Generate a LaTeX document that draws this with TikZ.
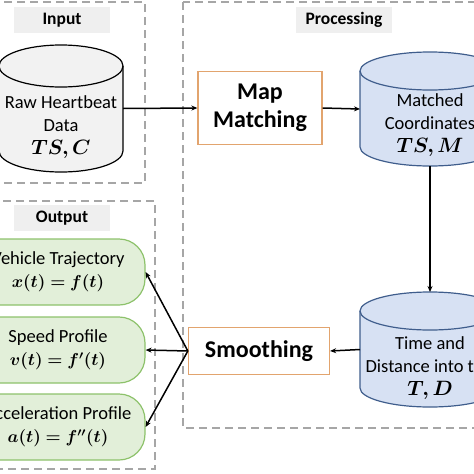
\documentclass[tikz,border=0pt]{standalone}
\usepackage{amsmath,bm}
\usepackage{fontspec}
\setmainfont{Carlito}
\usetikzlibrary{arrows.meta}
\usetikzlibrary{positioning}

\definecolor{dashgray}{HTML}{A6A6A6}
\definecolor{titlebg}{HTML}{EFEFEF}
\definecolor{procorange}{HTML}{E2A46E}
\definecolor{dbblue}{HTML}{D7E1F3}
\definecolor{dbedge}{HTML}{3F5D8C}
\definecolor{rawgray}{HTML}{F2F2F2}
\definecolor{outgreen}{HTML}{E2EFD9}
\definecolor{outedge}{HTML}{8DC26B}

% cylinder outline round a body node: node, x radius, y radius, style
\newcommand{\dbOutline}[4]{%
  \filldraw[#4] ([yshift=-#3]#1.north west) -- ([yshift=#3]#1.south west)
    arc[start angle=180, end angle=360, x radius=#2, y radius=#3]
    -- ([yshift=-#3]#1.north east)
    arc[start angle=0, end angle=180, x radius=#2, y radius=#3] -- cycle;
  \draw[#4, fill=none] ([yshift=-#3]#1.north west)
    arc[start angle=180, end angle=360, x radius=#2, y radius=#3];
}
\newcommand{\mathline}[1]{{\fontsize{20}{24}\selectfont$\bm{#1}$}}

\begin{document}
\begin{tikzpicture}[x=1pt, y=-1pt, font=\fontsize{18.5}{23}\selectfont]
\tikzstyle{groupStyle} = [draw=dashgray, line width=1.6pt, dash pattern=on 8pt off 5pt]
\tikzstyle{titleStyle} = [fill=titlebg, font=\fontsize{17.5}{20}\selectfont\bfseries, minimum width=96pt, minimum height=26pt, inner sep=0pt]
\tikzstyle{procStyle} = [draw=procorange, line width=1.3pt, fill=white, align=center, font=\fontsize{24}{28}\selectfont\bfseries]
\tikzstyle{dbBody} = [inner sep=0pt, outer sep=0pt]
\tikzstyle{dbText} = [align=center, inner sep=0pt]
\tikzstyle{outStyle} = [draw=outedge, fill=outgreen, line width=1.2pt, rounded corners=26pt, minimum width=174pt, minimum height=66pt, align=center]
\tikzstyle{flowStyle} = [-{Stealth[length=6pt, width=5pt]}, line width=1.5pt]
\useasboundingbox (0,0) rectangle (474,474);

% groups
\draw[groupStyle] (-10,2) rectangle (145,183);
\draw[groupStyle] (183,2) rectangle (495,428);
\draw[groupStyle] (-10,201) rectangle (155,469);
\node[titleStyle] (inTitle) at (62,20) {Input};
\node[titleStyle] (procTitle) at (344,20) {Processing};
\node[titleStyle] (outTitle) at (62,218) {Output};

% stores
\node[dbBody, minimum width=124pt, minimum height=127pt] (raw) at (61,108.5) {};
\dbOutline{raw}{62pt}{21pt}{draw=black, fill=rawgray, line width=1.2pt}
\node[dbText] (rawText) at (61,127) {Raw Heartbeat\\Data\\\mathline{TS,C}};
\node[dbBody, minimum width=140pt, minimum height=114pt] (matched) at (430,109) {};
\dbOutline{matched}{70pt}{19pt}{draw=dbedge, fill=dbblue, line width=1.2pt}
\node[dbText] (matchedText) at (430,125) {Matched\\Coordinates\\\mathline{TS,M}};
\node[dbBody, minimum width=140pt, minimum height=115pt] (dist) at (430,349.5) {};
\dbOutline{dist}{70pt}{19pt}{draw=dbedge, fill=dbblue, line width=1.2pt}
\node[dbText] (distText) at (430,368) {Time and\\Distance into trip\\\mathline{T,D}};

% steps
\node[procStyle, minimum width=124pt, minimum height=73pt] (mapMatch) at (260,108) {Map\\Matching};
\node[procStyle, minimum width=141pt, minimum height=47pt] (smooth) at (259,351) {Smoothing};

% outputs
\node[outStyle] (traj) at (58,272) {Vehicle Trajectory\\$\bm{x(t)=f(t)}$};
\node[outStyle] (speed) at (58,350) {Speed Profile\\$\bm{v(t)=f'(t)}$};
\node[outStyle] (accel) at (58,427) {Acceleration Profile\\$\bm{a(t)=f''(t)}$};

\draw[flowStyle] (raw.east) -- (mapMatch.west);
\draw[flowStyle] (mapMatch.east) -- (matched.west);
\draw[flowStyle] (matched.south) -- (dist.north);
\draw[flowStyle] (dist.west) -- (smooth.east);
\draw[flowStyle] (smooth.west) -- (traj.east);
\draw[flowStyle] (smooth.west) -- (speed.east);
\draw[flowStyle] (smooth.west) -- (accel.east);
\end{tikzpicture}
\end{document}
